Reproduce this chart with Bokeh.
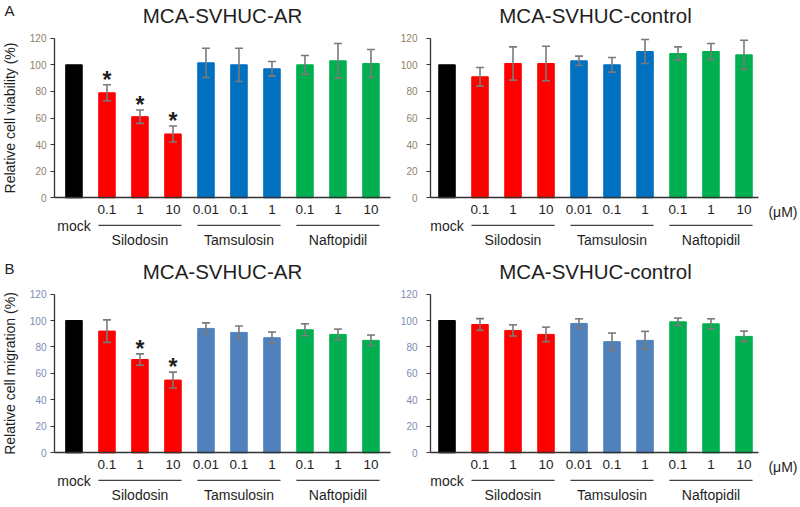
from bokeh.plotting import figure
from bokeh.models import (ColumnDataSource, Whisker, TeeHead, LinearAxis, FixedTicker,
                          LabelSet, Range1d)
from bokeh.layouts import column, row
from bokeh.embed import file_html
from bokeh.resources import INLINE
from bokeh.core.properties import value

# ---------------- data ----------------
dose_labels = ["mock", "0.1", "1", "10", "0.01", "0.1", "1", "0.1", "1", "10"]
drugs = ["mock", "Silodosin", "Silodosin", "Silodosin", "Tamsulosin", "Tamsulosin",
         "Tamsulosin", "Naftopidil", "Naftopidil", "Naftopidil"]
groups = ["Silodosin", "Tamsulosin", "Naftopidil"]
y_ticks = [0, 20, 40, 60, 80, 100, 120]

viability_ar_mean = [100, 79, 61, 48, 101.5, 100, 97, 100, 103, 101]
viability_ar_sd = [0, 6, 5, 6, 11, 12.5, 5.5, 7, 13, 10.5]
viability_ar_sig = [False, True, True, True, False, False, False, False, False, False]

viability_ctrl_mean = [100, 91, 101, 101, 103, 100, 110, 108.5, 110, 107.5]
viability_ctrl_sd = [0, 7, 12.5, 13, 3.5, 5.5, 9, 5, 6, 11]
viability_ctrl_sig = [False] * 10

migration_ar_mean = [100, 92, 70.5, 55, 94, 91, 87, 93, 89.5, 85]
migration_ar_sd = [0, 8.5, 4.3, 6, 4.2, 4.8, 4.3, 4.5, 4, 4]
migration_ar_sig = [False, False, True, True, False, False, False, False, False, False]

migration_ctrl_mean = [100, 97, 92.5, 89.5, 97.8, 84, 85, 99, 97.5, 88]
migration_ctrl_sd = [0, 4.4, 4.2, 5.5, 3.5, 6.5, 6.8, 2.8, 3.8, 4]
migration_ctrl_sig = [False] * 10

FONT = "Liberation Sans"
TXT = "#1e1e1e"
AXIS = "#333333"
ERR = "#7a7a7a"
PX_PER_CAT = 33.0


def panel(title, means, sds, sig, ylabel, drug_colors, tick_color,
          fig_w, fig_h, axis_px, axis_x, y_start, y_end, axis_end,
          tick_standoff, letter=None, letter_px=(4, 27.7), unit_label=None):
    scale = fig_h / (y_end - y_start)          # px per data unit (y)
    xscale = PX_PER_CAT                         # px per category (x)
    x_start = axis_x - axis_px / xscale
    x_end = x_start + fig_w / xscale

    def u(px):
        return px / scale

    p = figure(width=fig_w, height=fig_h, title=None,
               x_range=Range1d(x_start, x_end), y_range=Range1d(y_start, y_end),
               output_backend="svg", toolbar_location=None,
               x_axis_location=None, y_axis_location=None,
               min_border_left=0, min_border_right=0,
               min_border_top=0, min_border_bottom=0)
    p.outline_line_color = None
    p.xgrid.visible = False
    p.ygrid.visible = False

    xs = list(range(len(means)))
    colors = [drug_colors[d] for d in drugs]
    src = ColumnDataSource(dict(x=xs, top=means, color=colors))
    p.vbar(x="x", top="top", bottom=0, width=0.5, fill_color="color",
           line_color="color", source=src)

    # error bars
    ex = [x for x, s in zip(xs, sds) if s > 0]
    em = [m for m, s in zip(means, sds) if s > 0]
    es = [s for s in sds if s > 0]
    esrc = ColumnDataSource(dict(x=ex, upper=[m + s for m, s in zip(em, es)],
                                 lower=[m - s for m, s in zip(em, es)]))
    w = Whisker(base="x", upper="upper", lower="lower", source=esrc, level="annotation",
                line_color=ERR, line_width=1.6,
                upper_head=TeeHead(size=8, line_color=ERR, line_width=1.6),
                lower_head=TeeHead(size=8, line_color=ERR, line_width=1.6))
    p.add_layout(w)

    # significance
    sx = [x for x, f in zip(xs, sig) if f]
    sy = [m + s + u(5) for m, s, f in zip(means, sds, sig) if f]
    if sx:
        p.text(x=sx, y=sy, text=["*"] * len(sx), text_font=value(FONT),
               text_font_size="23px", text_font_style="bold", text_color=TXT,
               text_align="center", text_baseline="alphabetic")

    # y axis, placed at the left end of the x axis
    ya = LinearAxis(fixed_location=axis_x, bounds=(y_ticks[0], y_ticks[-1]),
                    ticker=FixedTicker(ticks=y_ticks))
    ya.major_tick_out = 4
    ya.major_tick_in = 0
    ya.minor_tick_out = 0
    ya.minor_tick_in = 0
    ya.axis_line_color = AXIS
    ya.axis_line_width = 1.3
    ya.major_tick_line_color = AXIS
    ya.major_label_text_font = FONT
    ya.major_label_text_font_size = "10px"
    ya.major_label_text_color = tick_color
    ya.major_label_standoff = tick_standoff
    if ylabel:
        ya.axis_label = ylabel
        ya.axis_label_text_font = FONT
        ya.axis_label_text_font_size = "14px"
        ya.axis_label_text_font_style = "normal"
        ya.axis_label_text_color = TXT
        ya.axis_label_standoff = 9
    p.add_layout(ya, "left")

    # x axis at y = 0
    xa = LinearAxis(fixed_location=0, bounds=(axis_x, axis_end),
                    ticker=FixedTicker(ticks=xs[1:]),
                    major_label_overrides={x: dose_labels[x] for x in xs[1:]})
    xa.axis_line_color = AXIS
    xa.axis_line_width = 1.3
    xa.major_tick_out = 0
    xa.major_tick_in = 0
    xa.minor_tick_out = 0
    xa.minor_tick_in = 0
    xa.major_label_standoff = 7
    xa.major_label_text_font = FONT
    xa.major_label_text_font_size = "13.5px"
    xa.major_label_text_color = TXT
    p.add_layout(xa, "below")

    # mock label
    msrc = ColumnDataSource(dict(x=[xs[0]], y=[-u(28)], t=[dose_labels[0]]))
    p.add_layout(LabelSet(x="x", y="y", text="t", source=msrc, text_font=value(FONT),
                          text_font_size="14px", text_color=TXT, text_align="center",
                          text_baseline="middle"))

    # drug group underlines and names
    half = 0.26
    g0, g1, gc = [], [], []
    for g in groups:
        idx = [i for i, d in enumerate(drugs) if d == g]
        g0.append(min(idx) - half)
        g1.append(max(idx) + half)
        gc.append((min(idx) + max(idx)) / 2)
    p.segment(x0=g0, y0=[-u(27.5)] * 3, x1=g1, y1=[-u(27.5)] * 3,
              line_color="#404040", line_width=1.1)
    gsrc = ColumnDataSource(dict(x=gc, y=[-u(47)] * 3, t=groups))
    p.add_layout(LabelSet(x="x", y="y", text="t", source=gsrc, text_font=value(FONT),
                          text_font_size="14px", text_color=TXT, text_align="center",
                          text_baseline="alphabetic"))

    if unit_label:
        p.text(x=[x_end - 3 / xscale], y=[-u(14.5)], text=[unit_label],
               text_font=value(FONT), text_font_size="14px", text_color=TXT,
               text_align="right", text_baseline="middle")

    # panel title
    p.text(x=[(xs[0] + xs[-1]) / 2], y=[y_ticks[-1] + u(22.5)], text=[title],
           text_font=value(FONT), text_font_size="20.5px", text_color=TXT,
           text_align="center", text_baseline="middle")

    # panel letter
    if letter:
        p.text(x=[x_start + letter_px[0] / xscale], y=[y_ticks[-1] + u(letter_px[1])],
               text=[letter], text_font=value(FONT), text_font_size="15px",
               text_color=TXT, text_align="left", text_baseline="middle")
    return p


top_colors = {"mock": "#000000", "Silodosin": "#ff0000", "Tamsulosin": "#0070c0",
              "Naftopidil": "#00b050"}
bot_colors = {"mock": "#000000", "Silodosin": "#ff0000", "Tamsulosin": "#4f81bd",
              "Naftopidil": "#00b050"}

p1 = panel("MCA-SVHUC-AR", viability_ar_mean, viability_ar_sd, viability_ar_sig,
           "Relative cell viability (%)", top_colors, "#8f7f6a",
           400, 250, 54, -0.59, -39.6, 148.35, 9.6, 4,
           letter="A", letter_px=(4, 27.7))
p2 = panel("MCA-SVHUC-control", viability_ctrl_mean, viability_ctrl_sd, viability_ctrl_sig,
           None, top_colors, "#8f7f6a",
           400, 250, 30, -0.5, -39.6, 148.35, 9.45, 9,
           unit_label="(μM)")
p3 = panel("MCA-SVHUC-AR", migration_ar_mean, migration_ar_sd, migration_ar_sig,
           "Relative cell migration (%)", bot_colors, "#7b8cb5",
           400, 257, 54, -0.59, -41.3, 152.9, 9.6, 4,
           letter="B", letter_px=(4, 26))
p4 = panel("MCA-SVHUC-control", migration_ctrl_mean, migration_ctrl_sd, migration_ctrl_sig,
           None, bot_colors, "#7b8cb5",
           400, 257, 30, -0.5, -41.3, 152.9, 9.45, 9,
           unit_label="(μM)")

layout = column(row(p1, p2), row(p3, p4))
open("out.html", "w").write(file_html(layout, INLINE))
